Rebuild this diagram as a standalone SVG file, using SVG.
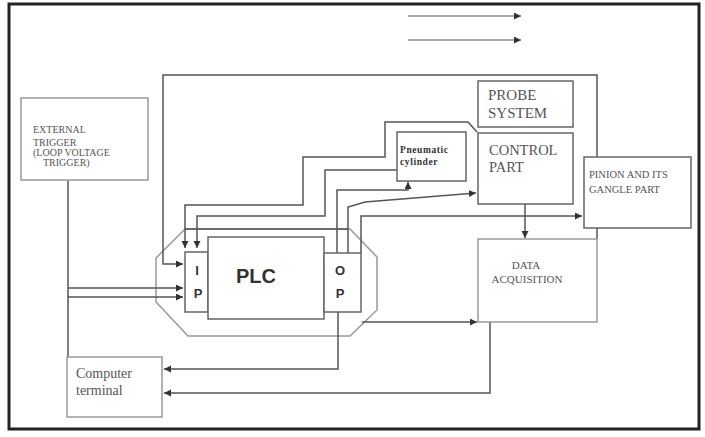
<svg xmlns="http://www.w3.org/2000/svg" width="705" height="437" viewBox="0 0 705 437">
<defs>
<marker id="ah" markerUnits="userSpaceOnUse" markerWidth="8" markerHeight="8" refX="7" refY="3.5" orient="auto">
<path d="M0,0 L7,3.5 L0,7 z" fill="#333"/>
</marker>
<style>
.c{fill:none;stroke:#555;stroke-width:1.5}
.a{marker-end:url(#ah)}
.lg{fill:none;stroke:#aaa;stroke-width:2}
.box{fill:#fff;stroke:#666;stroke-width:1.5}
.lbox{fill:#fff;stroke:#999;stroke-width:1.5}
.oct{fill:none;stroke:#999;stroke-width:1.5}
.t{font-family:"Liberation Serif",serif;fill:#555}
.b{font-family:"Liberation Sans",sans-serif;font-weight:bold;fill:#333}
.bs{font-family:"Liberation Serif",serif;font-weight:bold;fill:#333}
</style>
</defs>
<rect x="0" y="0" width="705" height="437" fill="#fff"/>
<rect x="9" y="4" width="690" height="425" fill="#fff" stroke="#222" stroke-width="3"/>

<g id="plc-enclosure">
<polygon class="oct" points="156,258 185,229 350,229 377,257 377,310 350,336 188,336 156,302"/>
</g>

<g id="connectors">
<path class="lg a" d="M408,16 H521"/>
<path class="lg a" d="M408,40 H521"/>
<path class="c a" d="M597,239 V75 H163 V264 H183"/>
<path class="c a" d="M477,132 L468,122 H385 V157 H303 V205 H185 V248"/>
<path class="c a" d="M397,170 H325 V216 H197 V248"/>
<path class="c" d="M185,229 H348"/>
<path class="c a" d="M337,253 V190 H408 V182"/>
<path class="c a" d="M348,253 V207 L365,202 L476,193"/>
<path class="c a" d="M361,253 V216 H582"/>
<path class="c a" d="M525,204 V238"/>
<path class="c a" d="M362,322 H477"/>
<path class="c a" d="M338,312 V369 H164"/>
<path class="c a" d="M490,322 V393 H164"/>
<path class="c" d="M68,180 V357"/>
<path class="c a" d="M68,288 H183"/>
<path class="c a" d="M68,297 H183"/>
</g>

<g id="external-trigger">
<rect class="lbox" x="21" y="98" width="127" height="82"/>
<text class="t" font-size="10" x="33" y="133">EXTERNAL</text>
<text class="t" font-size="10" x="33" y="146">TRIGGER</text>
<text class="t" font-size="10" x="33" y="156">(LOOP VOLTAGE</text>
<text class="t" font-size="10" x="43" y="166">TRIGGER)</text>
</g>

<g id="probe-system">
<rect class="box" x="478" y="81" width="95" height="46"/>
<text class="t" font-size="15" x="488" y="100">PROBE</text>
<text class="t" font-size="15" x="488" y="118">SYSTEM</text>
</g>

<g id="control-part">
<rect class="box" x="478" y="133" width="95" height="71"/>
<text class="t" font-size="14.5" x="489" y="155">CONTROL</text>
<text class="t" font-size="14.5" x="489" y="172">PART</text>
</g>

<g id="pneumatic-cylinder">
<rect class="box" x="397" y="132" width="69" height="49"/>
<text class="bs" font-size="9.5" x="400" y="153" letter-spacing="0.6">Pneumatic</text>
<text class="bs" font-size="9.5" x="400" y="165" letter-spacing="0.6">cylinder</text>
</g>

<g id="pinion">
<rect class="box" x="584" y="157" width="107" height="71"/>
<text class="t" font-size="10.5" x="589" y="178">PINION AND ITS</text>
<text class="t" font-size="10.5" x="589" y="193">GANGLE PART</text>
</g>

<g id="data-acquisition">
<rect class="lbox" x="478" y="239" width="119" height="83"/>
<text class="t" font-size="11" x="526" y="269" text-anchor="middle">DATA</text>
<text class="t" font-size="11" x="527" y="283" text-anchor="middle">ACQUISITION</text>
</g>

<g id="ip">
<rect class="box" x="185" y="252" width="23" height="60"/>
<text class="b" font-size="13" x="197" y="275" text-anchor="middle">I</text>
<text class="b" font-size="13" x="198" y="298" text-anchor="middle">P</text>
</g>

<g id="plc">
<rect class="box" x="208" y="237" width="116" height="82"/>
<text class="b" font-size="20" x="256" y="283" text-anchor="middle">PLC</text>
</g>

<g id="op">
<rect class="box" x="324" y="253" width="37" height="59"/>
<text class="b" font-size="13" x="340" y="275" text-anchor="middle">O</text>
<text class="b" font-size="13" x="340" y="298" text-anchor="middle">P</text>
</g>

<g id="computer-terminal">
<rect class="lbox" x="67" y="357" width="95" height="60"/>
<text class="t" font-size="14" x="76" y="378">Computer</text>
<text class="t" font-size="14" x="76" y="395">terminal</text>
</g>
</svg>
